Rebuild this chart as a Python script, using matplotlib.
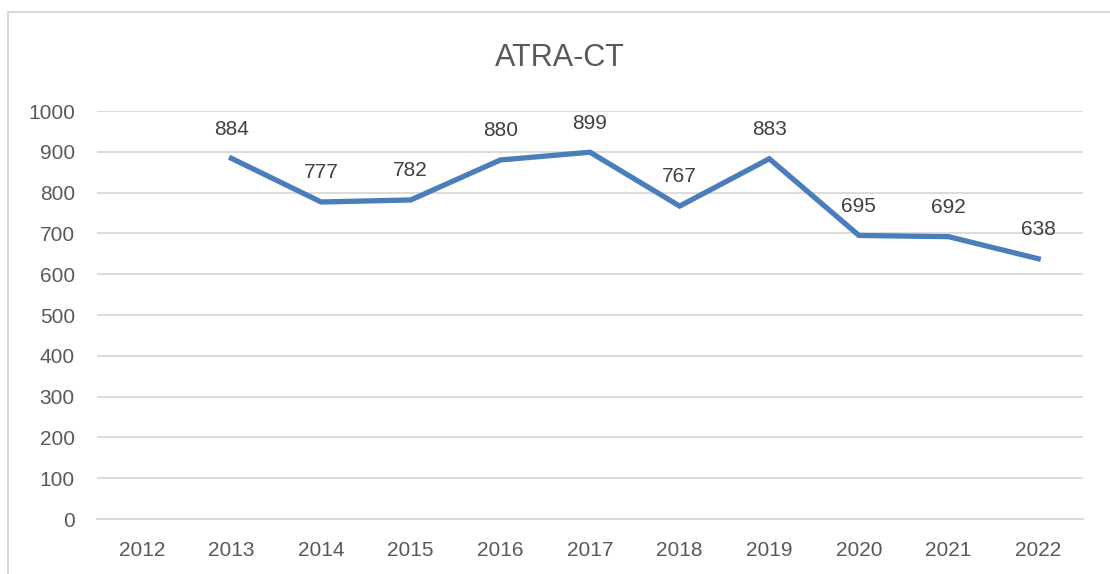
import matplotlib
matplotlib.use("Agg")
import matplotlib.pyplot as plt
import numpy as np
from matplotlib.patches import Rectangle

years = ["2012", "2013", "2014", "2015", "2016", "2017",
         "2018", "2019", "2020", "2021", "2022"]
values = [np.nan, 884, 777, 782, 880, 899, 767, 883, 695, 692, 638]
y_ticks = [0, 100, 200, 300, 400, 500, 600, 700, 800, 900, 1000]

plt.rcParams['font.family'] = ['Liberation Sans', 'DejaVu Sans']

fig = plt.figure(figsize=(11.1, 5.74), dpi=100)
ax = fig.add_axes([0.0874, 0.0958, 0.9757 - 0.0874, 0.8066 - 0.0958])

# chart frame (runs off the right and bottom edge)
fig.patches.append(Rectangle((8 / 1110, -0.05), 1.2, 1 - 12 / 574 + 0.05,
                             transform=fig.transFigure, fill=False,
                             edgecolor="#D9D9D9", linewidth=1.5))

x = np.arange(len(years))
ax.plot(x, values, color="#4A7EBB", linewidth=3.8, solid_joinstyle="miter")

for xi, v in zip(x, values):
    if np.isnan(v):
        continue
    ax.annotate(f"{int(v)}", (xi, v), xytext=(0, 21), textcoords="offset points",
                ha="center", va="center", fontsize=15, color="#404040")

ax.set_xlim(-0.5, len(years) - 0.5)
ax.set_ylim(0, 1000)
ax.set_xticks(x)
ax.set_xticklabels(years)
ax.set_yticks(y_ticks)
ax.grid(axis="y", color="#D9D9D9", linewidth=1.3)
ax.set_axisbelow(True)
for side in ["top", "right", "left"]:
    ax.spines[side].set_visible(False)
ax.spines["bottom"].set_color("#D9D9D9")
ax.spines["bottom"].set_linewidth(1.3)
ax.tick_params(axis="both", length=0, labelsize=15, labelcolor="#595959")
ax.tick_params(axis="y", pad=16)
ax.tick_params(axis="x", pad=16)

fig.text(560 / 1110, 1 - 58 / 574, "ATRA-CT", ha="center", va="center",
         fontsize=22, color="#595959")

fig.savefig("out.png", dpi=100)
